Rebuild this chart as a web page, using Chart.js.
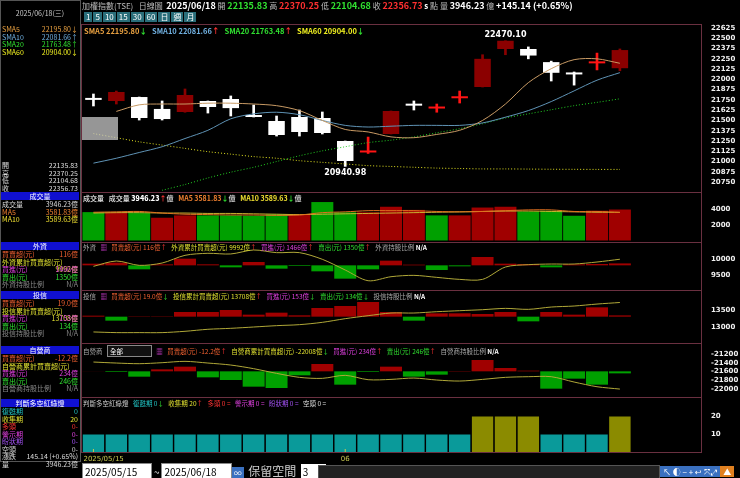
<!DOCTYPE html>
<html>
<head>
<meta charset="utf-8">
<script src="https://cdn.jsdelivr.net/npm/chart.js@4"></script>
<style>
  body { margin: 0; background: #000; width: 740px; height: 478px; overflow: hidden; position: relative;
         font-family: "Noto Sans CJK TC", "DejaVu Sans", sans-serif; color: #ddd; }
  canvas { position: absolute; left: 82px; }
  .t { position: absolute; font-size: 8px; white-space: nowrap; line-height: 8px; }
  .box { position: absolute; border: 1px solid #6a3040; box-sizing: border-box; pointer-events: none; }
  .hd { position: absolute; left: 1px; width: 78px; height: 8px; background: #1010d0; color: #fff;
        font-size: 7px; line-height: 8px; text-align: center; }
  .row { position: absolute; left: 2px; width: 76px; font-size: 7px; line-height: 7.5px; white-space: nowrap; }
  .row span { float: right; }
  .btn { display: inline-block; background: #2a6e7a; color: #fff; font-size: 8px; padding: 0 2px; margin-right: 1px; line-height: 10px; }
</style>
</head>
<body>
<canvas id="price" width="658" height="168" style="top:24px"></canvas>
<canvas id="volume" width="658" height="50" style="top:192px"></canvas>
<canvas id="foreign" width="658" height="48" style="top:242px"></canvas>
<canvas id="trust" width="658" height="53" style="top:290px"></canvas>
<canvas id="dealer" width="658" height="54" style="top:343px"></canvas>
<canvas id="light" width="658" height="67" style="top:397px"></canvas>
<div id="overlay"></div>

<script>
// candles 2025/05/15 ~ 2025/06/18 (24 trading days) + 3 empty slots
const labels = ['2025/05/15', '', '', '', '', '', '', '', '', '', '', '06', '', '', '', '', '', '', '', '', '', '', '', '', '', '', ''];
const opens  = [21760, 21737, 21785, 21640, 21603, 21737, 21761, 21566, 21493, 21542, 21530, 21250, 21110, 21335, 21690, 21645, 21770, 21907, 22370, 22370, 22210, 22070, 22195, 22135.83];
const highs  = [21822, 21858, 21785, 21737, 21883, 21737, 21798, 21688, 21554, 21627, 21603, 21250, 21298, 21615, 21737, 21700, 21858, 22300, 22470.10, 22395, 22222, 22090, 22320, 22370.25];
const lows   = [21676, 21700, 21505, 21505, 21600, 21590, 21554, 21542, 21310, 21310, 21335, 20940.98, 21098, 21335, 21627, 21600, 21712, 21907, 22300, 22250, 21980, 21930, 22115, 22104.68];
const closes = [21750, 21846, 21530, 21517, 21810, 21664, 21650, 21542, 21323, 21359, 21347, 21006, 21125, 21615, 21680, 21660, 21790, 22250, 22470, 22290, 22080, 22060, 22215, 22356.73];
const sma5   = [null, 21610, 21690, 21700, 21700, 21710, 21710, 21700, 21680, 21620, 21500, 21390, 21360, 21300, 21290, 21330, 21380, 21500, 21700, 21960, 22130, 22240, 22250, 22195.80];
const sma10  = [20980, 21040, 21110, 21180, 21280, 21380, 21520, 21580, 21600, 21570, 21500, 21440, 21420, 21430, 21440, 21440, 21440, 21470, 21540, 21620, 21730, 21860, 21990, 22081.66];
const sma20  = [null, null, null, 20650, 20720, 20800, 20870, 20930, 21000, 21070, 21130, 21180, 21230, 21260, 21300, 21350, 21400, 21460, 21530, 21580, 21630, 21680, 21720, 21763.48];
const sma60  = [21340, 21290, 21240, 21200, 21160, 21120, 21090, 21060, 21040, 21010, 20990, 20970, 20950, 20940, 20930, 20920, 20915, 20910, 20910, 20908, 20906, 20905, 20904, 20904.00];
const priceTicks = [20750, 20875, 21000, 21125, 21250, 21375, 21500, 21625, 21750, 21875, 22000, 22125, 22250, 22375, 22500, 22625];

// volume (億)
const volumes = [3617, 3600, 3500, 2900, 3200, 3200, 3200, 3150, 3350, 3350, 4900, 3600, 3600, 4300, 3900, 3200, 3200, 4200, 4300, 3700, 3800, 3150, 3800, 3946.23];
const volUp   = [0, 1, 0, 1, 1, 0, 0, 0, 0, 1, 0, 0, 1, 1, 1, 0, 1, 1, 1, 0, 0, 0, 1, 1];
const volMa5  = [3600, 3650, 3700, 3500, 3350, 3300, 3250, 3250, 3200, 3250, 3550, 3650, 3800, 3800, 3800, 3700, 3650, 3700, 3800, 3900, 3900, 3700, 3700, 3581.83];
const volMa10 = [3500, 3550, 3550, 3500, 3500, 3450, 3450, 3400, 3350, 3300, 3350, 3400, 3450, 3500, 3550, 3600, 3650, 3700, 3750, 3750, 3700, 3650, 3600, 3589.63];
const volTicks = [2000, 4000];

// 外資 net buy (億) and cumulative
const foreignNet = [100, 160, -240, 60, 400, 60, -120, 200, -200, -40, -360, -800, -240, 280, 40, -280, -60, 500, 100, 80, -120, 60, 80, 116];
const foreignCum = [9766, 9936, 9798, 9872, 10117, 10181, 10160, 10287, 10202, 10202, 9990, 9649, 9308, 9436, 9479, 9415, 9351, 9351, 9745, 9819, 9840, 9840, 9904, 9992];
const foreignTicks = [9500, 10000];

// 投信
const trustNet = [15, -60, 5, 5, 70, 70, 100, 30, 60, 20, 130, 160, 220, 70, -60, 50, 50, 40, 70, -70, 70, 30, 140, 19];
const trustCum = [12857, 12838, 12838, 12838, 12876, 12934, 12962, 13000, 13039, 13068, 13135, 13241, 13327, 13404, 13404, 13442, 13471, 13500, 13538, 13510, 13577, 13606, 13663, 13708];
const trustTicks = [13000, 13500];

// 自營商
const dealerNet = [0.5, -4, -32, 12, 28, -36, -52, -92, -100, -24, 44, -80, -4, 28, -32, -20, 2, 68, 20, 4, -104, -44, -80, -12.2];
const dealerCum = [-21385, -21408, -21423, -21400, -21369, -21408, -21454, -21538, -21646, -21738, -21761, -21692, -21792, -21785, -21754, -21800, -21823, -21785, -21738, -21723, -21723, -21846, -21954, -22008];
const dealerTicks = [-22000, -21800, -21600, -21400, -21200];

// 判斷多空紅綠燈 (1 = 收集期)
const lightVals  = [10, 10, 10, 10, 10, 10, 10, 10, 10, 10, 10, 10, 10, 10, 10, 10, 10, 20, 20, 20, 10, 10, 10, 20];
const lightPhase = [0, 0, 0, 0, 0, 0, 0, 0, 0, 0, 0, 0, 0, 0, 0, 0, 0, 1, 1, 1, 0, 0, 0, 1];
const lightTicks = [10, 20];

Chart.defaults.animation = false;
Chart.defaults.font.family = '"DejaVu Sans", sans-serif';

function rightAxis(min, max, ticks) {
    return {
        type: 'linear', axis: 'y', position: 'right', min: min, max: max,
        grid: { display: false }, border: { display: false },
        ticks: { color: '#f0f0f0', font: { size: 7, weight: 'bold' }, padding: 3, autoSkip: false,
                 callback: v => String(v) },
        afterBuildTicks: axis => { axis.ticks = ticks.map(v => ({ value: v })); },
        // no label padding so the plot fills the whole panel
        afterFit: axis => { axis.width = 40; axis.paddingTop = 0; axis.paddingBottom = 0; }
    };
}

function hiddenX() {
    return { display: false, offset: true, grid: { display: false } };
}

function baseOptions(scales, padBottom) {
    return {
        responsive: false,
        layout: { padding: { left: 0, right: 0, top: 0, bottom: padBottom || 0 } },
        plugins: { legend: { display: false }, tooltip: { enabled: false } },
        scales: scales
    };
}

function candleColor(i) {
    const up = closes[i] >= opens[i];
    if (!up) return '#ffffff';
    return Math.abs(closes[i] - opens[i]) < 40 ? '#ff1414' : '#8b0000';
}
const cColors = closes.map((c, i) => candleColor(i));

// label the highest high and lowest low
const extremeLabels = {
    id: 'extremeLabels',
    afterDatasetsDraw(chart) {
        const ctx = chart.ctx, x = chart.scales.x, y = chart.scales.y;
        const hi = highs.indexOf(Math.max(...highs));
        const lo = lows.indexOf(Math.min(...lows));
        ctx.save();
        ctx.fillStyle = '#ffffff';
        ctx.font = 'bold 8px "DejaVu Sans"';
        ctx.textAlign = 'center';
        ctx.fillText(highs[hi].toFixed(2), x.getPixelForValue(hi), y.getPixelForValue(highs[hi]) - 4);
        ctx.fillText(lows[lo].toFixed(2), x.getPixelForValue(lo), y.getPixelForValue(lows[lo]) + 9);
        ctx.restore();
    }
};

// date labels under the last panel
const dateLabels = {
    id: 'dateLabels',
    afterDraw(chart) {
        const ctx = chart.ctx, x = chart.scales.x, bottom = chart.chartArea.bottom;
        ctx.save();
        ctx.fillStyle = '#c8c850';
        ctx.strokeStyle = '#c8c850';
        ctx.font = '7px "DejaVu Sans"';
        labels.forEach((l, i) => {
            if (!l) return;
            const px = x.getPixelForValue(i);
            ctx.beginPath();
            ctx.moveTo(px, bottom - 3);
            ctx.lineTo(px, bottom);
            ctx.stroke();
            ctx.textAlign = i === 0 ? 'left' : 'center';
            ctx.fillText(l, i === 0 ? px - 10 : px, bottom + 9);
        });
        ctx.restore();
    }
};

function line(data, color, dash, axis) {
    return { type: 'line', data: data, borderColor: color, borderWidth: 1, borderDash: dash || [],
             pointRadius: 0, tension: 0.3, yAxisID: axis || 'y', order: 0 };
}

// price
new Chart(document.getElementById('price'), {
    type: 'bar',
    data: {
        labels: labels,
        datasets: [
            line(sma5, '#c89a64'),
            line(sma10, '#5f93b5'),
            line(sma20, '#22cc22', [1, 2]),
            line(sma60, '#e0e020', [1, 2]),
            { data: lows.map((l, i) => [l, highs[i]]), backgroundColor: cColors, barThickness: 2, grouped: false, order: 2 },
            { data: opens.map((o, i) => [o, closes[i]]), backgroundColor: cColors, barPercentage: 0.72,
              categoryPercentage: 1, minBarLength: 2, grouped: false, order: 1 }
        ]
    },
    options: baseOptions({ x: hiddenX(), y: rightAxis(20629, 22674, priceTicks) }),
    plugins: [extremeLabels]
});

// volume
new Chart(document.getElementById('volume'), {
    type: 'bar',
    data: {
        labels: labels,
        datasets: [
            line(volMa5, '#e07020'),
            line(volMa10, '#c8b030'),
            { data: volumes, backgroundColor: volUp.map(u => u ? '#a00000' : '#00a000'),
              barPercentage: 0.96, categoryPercentage: 1, order: 1 }
        ]
    },
    options: baseOptions({ x: hiddenX(), y: rightAxis(-190, 6180, volTicks) })
});

function netChart(id, net, cum, lineMin, lineMax, ticks, barMin, barMax) {
    new Chart(document.getElementById(id), {
        type: 'bar',
        data: {
            labels: labels,
            datasets: [
                { type: 'line', data: cum, yAxisID: 'cum', borderColor: '#b0a838', borderWidth: 1,
                  pointRadius: 0, tension: 0.3, order: 0 },
                { type: 'bar', data: net, yAxisID: 'net', backgroundColor: net.map(v => v >= 0 ? '#a00000' : '#00a000'),
                  barPercentage: 0.96, categoryPercentage: 1, order: 1 }
            ]
        },
        options: baseOptions({
            x: hiddenX(),
            cum: rightAxis(lineMin, lineMax, ticks),
            net: { type: 'linear', axis: 'y', position: 'left', display: false, min: barMin, max: barMax }
        })
    });
}
netChart('foreign', foreignNet, foreignCum, 9013, 10541, foreignTicks, -1480, 1400);
netChart('trust', trustNet, trustCum, 12538, 14069, trustTicks, -395, 400);
netChart('dealer', dealerNet, dealerCum, -22191, -20946, dealerTicks, -154, 170);

// red/green light
new Chart(document.getElementById('light'), {
    type: 'bar',
    data: {
        labels: labels,
        datasets: [{ data: lightVals, backgroundColor: lightPhase.map(p => p ? '#8b8b00' : '#0a9a9a'),
                     borderColor: '#000', borderWidth: 0.5, barPercentage: 0.98, categoryPercentage: 1 }]
    },
    options: baseOptions({ x: hiddenX(), y: rightAxis(0, 30.6, lightTicks) }, 12),
    plugins: [dateLabels]
});

// text overlays
const overlay = document.getElementById('overlay');
function put(html, style) {
    const d = document.createElement('div');
    d.className = 't';
    d.style.cssText = style;
    d.innerHTML = html;
    overlay.appendChild(d);
}
function rows(top, list) {
    list.forEach((r, i) => {
        const d = document.createElement('div');
        d.className = 'row';
        d.style.top = (top + i * 7.5) + 'px';
        d.style.color = r[2] || '#ddd';
        d.innerHTML = r[0] + '<span>' + r[1] + '</span>';
        overlay.appendChild(d);
    });
}
function header(top, text) {
    const d = document.createElement('div');
    d.className = 'hd';
    d.style.top = top + 'px';
    d.textContent = text;
    overlay.appendChild(d);
}

// panel borders
[[24, 168], [192, 50], [242, 48], [290, 53], [343, 54], [397, 55]].forEach(p => {
    const b = document.createElement('div');
    b.className = 'box';
    b.style.cssText = `left:81px;top:${p[0]}px;width:621px;height:${p[1] + 1}px`;
    overlay.appendChild(b);
});
const lb = document.createElement('div');
lb.className = 'box';
lb.style.cssText = 'left:0;top:0;width:81px;height:462px;border-color:#555';
overlay.appendChild(lb);

// selected day highlight
const hl = document.createElement('div');
hl.style.cssText = 'position:absolute;left:82px;top:117px;width:36px;height:23px;background:rgba(200,200,200,0.75)';
overlay.appendChild(hl);

put('加權指數(TSE) &nbsp; 日線圖 &nbsp;<b style="color:#fff;font-size:9px">2025/06/18</b> 開 <b style="color:#30e030;font-size:9px">22135.83</b> 高 <b style="color:#ff3030;font-size:9px">22370.25</b> 低 <b style="color:#30e030;font-size:9px">22104.68</b> 收 <b style="color:#ff3030;font-size:9px">22356.73</b> <b style="color:#fff">s</b> 點 量 <b style="color:#fff;font-size:9px">3946.23</b> 億 <b style="color:#fff;font-size:9px">+145.14 (+0.65%)</b>',
    'left:82px;top:2px;color:#bbb;font-size:8px');
put(['1', '5', '10', '15', '30', '60', '日', '週', '月'].map(b => '<span class="btn">' + b + '</span>').join(''),
    'left:84px;top:12px');
put('2025/06/18(三)', 'left:0;top:9px;width:80px;text-align:center;color:#ccc;font-size:7px');

put('<span style="color:#e8a040">SMA5 22195.80<span style="color:#30e030">↓</span></span> &nbsp; <span style="color:#70b0e0">SMA10 22081.66<span style="color:#f33">↑</span></span> &nbsp; <span style="color:#30e030">SMA20 21763.48<span style="color:#f33">↑</span></span> &nbsp; <span style="color:#f0f020">SMA60 20904.00<span style="color:#30e030">↓</span></span>',
    'left:84px;top:27px;font-size:7.5px;font-weight:bold');
put('<span style="color:#ccc">成交量</span> &nbsp; 成交量 <b style="color:#fff">3946.23</b><span style="color:#f33">↑</span>億 &nbsp; <span style="color:#f08030">MA5 3581.83</span><span style="color:#30e030">↓</span>億 &nbsp; <span style="color:#f0e030">MA10 3589.63</span><span style="color:#30e030">↓</span>億',
    'left:83px;top:194px;font-size:7px;font-weight:bold;color:#ccc');
put('外資 &nbsp; <span style="color:#e040e0">▦</span> &nbsp; <span style="color:#f06030">買賣超(元) 116億</span><span style="color:#f33">↑</span> &nbsp; <span style="color:#e0e030">外資累計買賣超(元) 9992億</span><span style="color:#f33">↑</span> &nbsp; <span style="color:#e040e0">買進(元) 1466億</span><span style="color:#f33">↑</span> &nbsp; <span style="color:#30e030">賣出(元) 1350億</span><span style="color:#f33">↑</span> &nbsp; 外資持股比例 <b style="color:#fff">N/A</b>',
    'left:83px;top:243px;font-size:6.5px;color:#aaa');
put('投信 &nbsp; <span style="color:#e040e0">▦</span> &nbsp; <span style="color:#f06030">買賣超(元) 19.0億</span><span style="color:#30e030">↓</span> &nbsp; <span style="color:#e0e030">投信累計買賣超(元) 13708億</span><span style="color:#f33">↑</span> &nbsp; <span style="color:#e040e0">買進(元) 153億</span><span style="color:#30e030">↓</span> &nbsp; <span style="color:#30e030">賣出(元) 134億</span><span style="color:#30e030">↓</span> &nbsp; 投信持股比例 <b style="color:#fff">N/A</b>',
    'left:83px;top:292px;font-size:6.5px;color:#aaa');
put('自營商 &nbsp; <span style="border:1px solid #888;padding:0 28px 0 2px;color:#fff;background:#111">全部</span> &nbsp; <span style="color:#e040e0">▦</span> &nbsp; <span style="color:#f06030">買賣超(元) -12.2億</span><span style="color:#f33">↑</span> &nbsp; <span style="color:#e0e030">自營商累計買賣超(元) -22008億</span><span style="color:#30e030">↓</span> &nbsp; <span style="color:#e040e0">買進(元) 234億</span><span style="color:#f33">↑</span> &nbsp; <span style="color:#30e030">賣出(元) 246億</span><span style="color:#f33">↑</span> &nbsp; 自營商持股比例 <b style="color:#fff">N/A</b>',
    'left:83px;top:347px;font-size:6.5px;color:#aaa');
put('判斷多空紅綠燈 &nbsp; <span style="color:#20c0c0">復甦期 0</span><span style="color:#30e030">↓</span> &nbsp; <span style="color:#e0e030">收集期 20</span><span style="color:#f33">↑</span> &nbsp; <span style="color:#f33">多頭 0 =</span> &nbsp; <span style="color:#e040e0">警示期 0 =</span> &nbsp; <span style="color:#a050f0">盼狀期 0 =</span> &nbsp; <span style="color:#ddd">空頭 0 =</span>',
    'left:83px;top:399px;font-size:6.5px;color:#ccc');

// left info panel
rows(26, [['SMA5', '22195.80↓', '#e8a040'], ['SMA10', '22081.66↑', '#70b0e0'], ['SMA20', '21763.48↑', '#30e030'], ['SMA60', '20904.00↓', '#f0f020']]);
rows(162, [['開', '22135.83'], ['高', '22370.25'], ['低', '22104.68'], ['收', '22356.73']]);
header(192, '成交量');
rows(201, [['成交量', '3946.23億', '#ddd'], ['MA5', '3581.83億', '#f08030'], ['MA10', '3589.63億', '#f0e030']]);
header(242, '外資');
rows(251, [['買賣超(元)', '116億', '#f06030'], ['外資累計買賣超(元)', '9992億', '#e0e030'], ['買進(元)', '1466億', '#e040e0'], ['賣出(元)', '1350億', '#30e030'], ['外資持股比例', 'N/A', '#888']]);
header(291, '投信');
rows(300, [['買賣超(元)', '19.0億', '#f06030'], ['投信累計買賣超(元)', '13708億', '#e0e030'], ['買進(元)', '153億', '#e040e0'], ['賣出(元)', '134億', '#30e030'], ['投信持股比例', 'N/A', '#888']]);
header(346, '自營商');
rows(355, [['買賣超(元)', '-12.2億', '#f06030'], ['自營商累計買賣超(元)', '', '#e0e030'], ['買進(元)', '234億', '#e040e0'], ['賣出(元)', '246億', '#30e030'], ['自營商持股比例', 'N/A', '#888']]);
header(399, '判斷多空紅綠燈');
rows(408, [['復甦期', '0', '#20c0c0'], ['收集期', '20', '#e0e030'], ['多頭', '0-', '#f33'], ['警示期', '0-', '#e040e0'], ['盼狀期', '0-', '#a050f0'], ['空頭', '0-', '#ccc']]);
rows(453, [['漲跌', '145.14 (+0.65%)'], ['量', '3946.23億']]);

// bottom controls
put('<span style="background:#fff;color:#000;font-size:10px;padding:0 14px 0 2px;border:1px solid #888">2025/05/15</span> <span style="font-size:10px">~</span> <span style="background:#fff;color:#000;font-size:10px;padding:0 14px 0 2px;border:1px solid #888">2025/06/18</span><span style="background:#3a70c0;color:#fff;font-size:8px;padding:0 2px">∞</span> <span style="font-size:12px;color:#ccc">&nbsp;保留空間&nbsp;</span> <span style="background:#fff;color:#000;font-size:10px;padding:0 18px 0 2px">3</span><span style="background:#3a70c0;color:#fff;font-size:8px;padding:0 2px">∞</span>',
    'left:82px;top:464px;line-height:13px');
put('', 'left:318px;top:465px;width:340px;height:12px;background:#222;border:1px solid #555');
put('<span style="background:#3a70c0;color:#fff;padding:0 3px">↖ ◐ − + ↩ ⤧ ⤢</span><span style="background:#e08020;color:#fff;padding:0 3px">▲</span>',
    'left:660px;top:466px;font-size:8px;line-height:11px');
</script>
</body>
</html>
